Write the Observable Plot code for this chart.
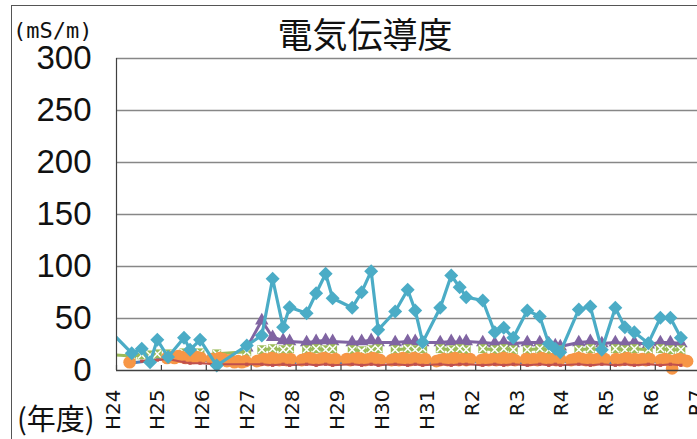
<!DOCTYPE html>
<html><head><meta charset="utf-8">
<script src="https://cdn.jsdelivr.net/npm/d3@7"></script>
<script src="https://cdn.jsdelivr.net/npm/@observablehq/plot@0.6"></script>
<style>body{margin:0;background:#fff}svg{display:block}</style>
</head><body><div id="chart"></div>
<script>
// fiscal-year labels (H24 = FY2012 ... R7)
const yearLabels = ["H24","H25","H26","H27","H28","H29","H30","H31","R2","R3","R4","R5","R6","R7"];
const yTicks = [0, 50, 100, 150, 200, 250, 300];

// sampling times, in fiscal years since the start of H24
const sampleT = [-0.1, 0.339, 0.562, 0.747, 0.909, 1.148, 1.504, 1.638, 1.861, 2.233, 2.902, 3.236, 3.477, 3.711, 3.856, 4.234, 4.446, 4.658, 4.814, 5.249, 5.46, 5.672, 5.828, 6.207, 6.485, 6.653, 6.82, 7.21, 7.455, 7.644, 7.789, 8.157, 8.424, 8.625, 8.837, 9.149, 9.427, 9.628, 9.773, 9.884, 10.296, 10.553, 10.809, 11.11, 11.322, 11.533, 11.845, 12.113, 12.336, 12.57];
const cyan = [36, 16.6, 20.9, 8, 29.5, 13, 31.4, 19.9, 29.5, 4.8, 24, 33.7, 88.2, 41.6, 60.9, 55.1, 74.3, 93, 69.5, 60.3, 75.3, 95.5, 39.1, 56.7, 77.6, 57.7, 27.2, 60.3, 91.3, 80.1, 70.5, 67.3, 36.8, 41, 31.4, 57.7, 52, 25.7, 20.9, 17.6, 58.7, 61.5, 19.9, 60.3, 41.6, 36.8, 26.3, 50.7, 50.7, 31.4];
const purple = [null, null, null, null, null, null, null, null, null, null, 22, 48, 32, 29, 28, 27, 28, 29, 28, 27, 28, 29, 27, 27, 28, 28, 27, 27, 28, 27, 28, 27, 26, 27, 26, 27, 27, 26, 24, 23, 27, 28, 26, 27, 26, 27, 25, 27, 27, 26];
const green = [15, 14, 15, 15, 16, 16, 17, 16, 17, 16, 18, 20, 21, 20, 21, 20, 21, 20, 21, 20, 19, 20, 21, 20, 21, 20, 21, 21, 20, 21, 20, 21, 20, 21, 20, 20, 21, 20, 19, 20, 20, 21, 20, 21, 20, 21, 20, 21, 20, 20];
const red = [null, null, 9, 10, 10, 11, 8, 7, 7, 6, 6, 6, 5, 6, 5, 6, 5, 6, 5, 6, 5, 6, 5, 6, 5, 6, 5, 6, 5, 6, 6, 5, 6, 5, 6, 5, 6, 5, 6, 5, 6, 5, 6, 5, 6, 5, 6, 5, 6, 5];

// orange: per fiscal year, May..Feb
const orange = [
  [null, null, 8, null, null, null, null, null, null, null],
  [12, 13, 12, 14, 13, 12, 13, 12, 13, 12],
  [11, 10, 12, 11, 9, 10, 8, 9, 8, 9],
  [9, 10, 11, 10, 12, 11, 10, 11, 10, 11],
  [10, 11, 12, 11, 10, 11, 12, 11, 10, 11],
  [11, 10, 11, 12, 11, 10, 11, 12, 11, 10],
  [10, 11, 10, 12, 11, 10, 12, 11, 10, 11],
  [9, 10, 11, 10, 11, 12, 10, 11, 10, 11],
  [10, 11, 10, 11, 10, 11, 12, 10, 11, 10],
  [11, 10, 11, 10, 12, 11, 10, 11, 10, 11],
  [10, 11, 12, 11, 10, 11, 10, 11, 12, 11],
  [11, 10, 11, 12, 10, 11, 10, 11, 10, 11],
  [10, 11, 10, 2, 10, 11, 10, 9]
];
// blue: per fiscal year, Apr..Mar
const blue = [
  [null, null, null, 7, null, null, null, null, null, null, null, null],
  [null, null, 12, 11, 12, 11, 12, 11, 11, 10, 11, 10],
  [10, 9, 10, 9, 8, 9, 8, 9, 8, 9, 8, 9],
  [9, 8, 9, 10, 9, 8, 9, 10, 9, 8, 9, 8],
  [9, 8, 9, 8, 9, 10, 9, 8, 9, 8, 9, 8],
  [8, 9, 8, 9, 10, 9, 8, 9, 8, 9, 8, 9],
  [9, 8, 9, 8, 9, 8, 9, 10, 9, 8, 9, 8],
  [8, 9, 8, 9, 8, 9, 10, 9, 8, 9, 8, 9],
  [9, 8, 9, 8, 9, 8, 9, 8, 9, 10, 9, 8],
  [8, 9, 8, 9, 8, 9, 8, 9, 10, 9, 8, 9],
  [9, 8, 9, 8, 9, 8, 9, 8, 9, 8, 9, 8],
  [8, 9, 8, 9, 8, 9, 8, 9, 8, 9, 8, 9],
  [9, 8, 9, 8, 9, 8, 9, 8, 9]
];

const yearIdx = yearLabels.map((_, i) => i);
const samples = sampleT.map((t, i) => ({t, fy: Math.max(0, Math.floor(t)), cyan: cyan[i], purple: purple[i], green: green[i], red: red[i]}));
const shown = samples.filter(d => d.t >= 0);
const orangeRows = orange.flatMap((vals, fy) => vals.map((v, i) => ({t: fy + (i + 1.5) / 12, fy, v})));
const blueRows = blue.flatMap((vals, fy) => vals.map((v, m) => ({t: fy + (m + 0.5) / 12, v}))).filter(d => d.v != null);

const C = {cyan: "#4BACC6", purple: "#8064A2", green: "#9BBB59", orange: "#F79646", red: "#C0504D", blue: "#4F81BD"};

const plot = Plot.plot({
  width: 697, height: 439,
  marginLeft: 116, marginRight: 0, marginTop: 58, marginBottom: 69,
  x: {domain: [0, 12.94], axis: null},
  y: {domain: [0, 300], axis: null},
  style: {background: "#fff"},
  marks: [
    Plot.ruleY(yTicks.filter(d => d > 0), {stroke: "#878787", strokeWidth: 1.5}),
    Plot.line(blueRows, {x: "t", y: "v", stroke: C.blue, strokeWidth: 3}),
    Plot.dot(blueRows, {x: "t", y: "v", symbol: "square", r: 2.4, fill: C.blue}),
    Plot.line(samples, {x: "t", y: "purple", stroke: C.purple, strokeWidth: 3, clip: true}),
    Plot.dot(shown, {x: "t", y: "purple", symbol: "triangle", r: 5, fill: C.purple}),
    Plot.line(samples, {x: "t", y: "green", z: "fy", stroke: C.green, strokeWidth: 3, clip: true}),
    Plot.dot(shown, {x: "t", y: "green", symbol: "square", r: 5, fill: C.green}),
    Plot.dot(shown, {x: "t", y: "green", symbol: "times", r: 3.4, stroke: "#fff", strokeWidth: 1.5}),
    Plot.line(orangeRows, {x: "t", y: "v", z: "fy", stroke: C.orange, strokeWidth: 3}),
    Plot.dot(orangeRows, {x: "t", y: "v", r: 6.3, fill: C.orange}),
    Plot.line(samples, {x: "t", y: "red", stroke: C.red, strokeWidth: 2, clip: true}),
    Plot.dot(shown, {x: "t", y: "red", symbol: "square", r: 1.8, fill: C.red}),
    Plot.line(samples, {x: "t", y: "cyan", stroke: C.cyan, strokeWidth: 3.2, clip: true}),
    Plot.dot(shown, {x: "t", y: "cyan", symbol: "diamond2", r: 6.3, fill: C.cyan}),
    Plot.ruleY([0], {stroke: "#404040", strokeWidth: 1.5}),
    Plot.ruleX([0], {stroke: "#404040", strokeWidth: 1.2}),
    Plot.ruleX(yearIdx, {x: d => d, y1: 0, y2: 0, insetTop: -5, stroke: "#404040", strokeWidth: 1.2}),
    Plot.text(yTicks, {y: d => d, text: d => String(d), frameAnchor: "left", textAnchor: "end", dx: -25, fontSize: 33, fontFamily: "Liberation Sans", fill: "#111", ariaLabel: "y-labels"}),
    Plot.text(yearIdx, {x: d => d, text: i => yearLabels[i], frameAnchor: "bottom", rotate: -90, textAnchor: "end", lineAnchor: "bottom", dx: 3, dy: 19, fontSize: 20, fontFamily: "DejaVu Sans", fill: "#111"})
  ]
});

const svg = d3.select(plot);
// narrow the y tick labels like the reference's condensed digits
svg.selectAll('g[aria-label="y-labels"] text')
  .attr("textLength", function() { return this.textContent.length * 14.6; })
  .attr("lengthAdjust", "spacingAndGlyphs");
svg.append("rect").attr("x", 11.5).attr("y", 5.5).attr("width", 720).attr("height", 460)
  .attr("fill", "none").attr("stroke", "#555");
svg.append("text").attr("x", 365).attr("y", 47.5).attr("text-anchor", "middle")
  .attr("font-family", "Noto Sans CJK JP").attr("font-size", 35).attr("fill", "#111").text("電気伝導度");
svg.append("text").attr("x", 13).attr("y", 37.5).attr("text-anchor", "start")
  .attr("font-family", "DejaVu Sans Mono").attr("font-size", 22).attr("fill", "#111").text("(mS/m)");
svg.append("text").attr("x", 17).attr("y", 430).attr("text-anchor", "start")
  .attr("font-family", "Noto Sans CJK JP").attr("font-size", 29).attr("fill", "#111").text("(年度)");

document.getElementById("chart").append(plot);
</script></body></html>
